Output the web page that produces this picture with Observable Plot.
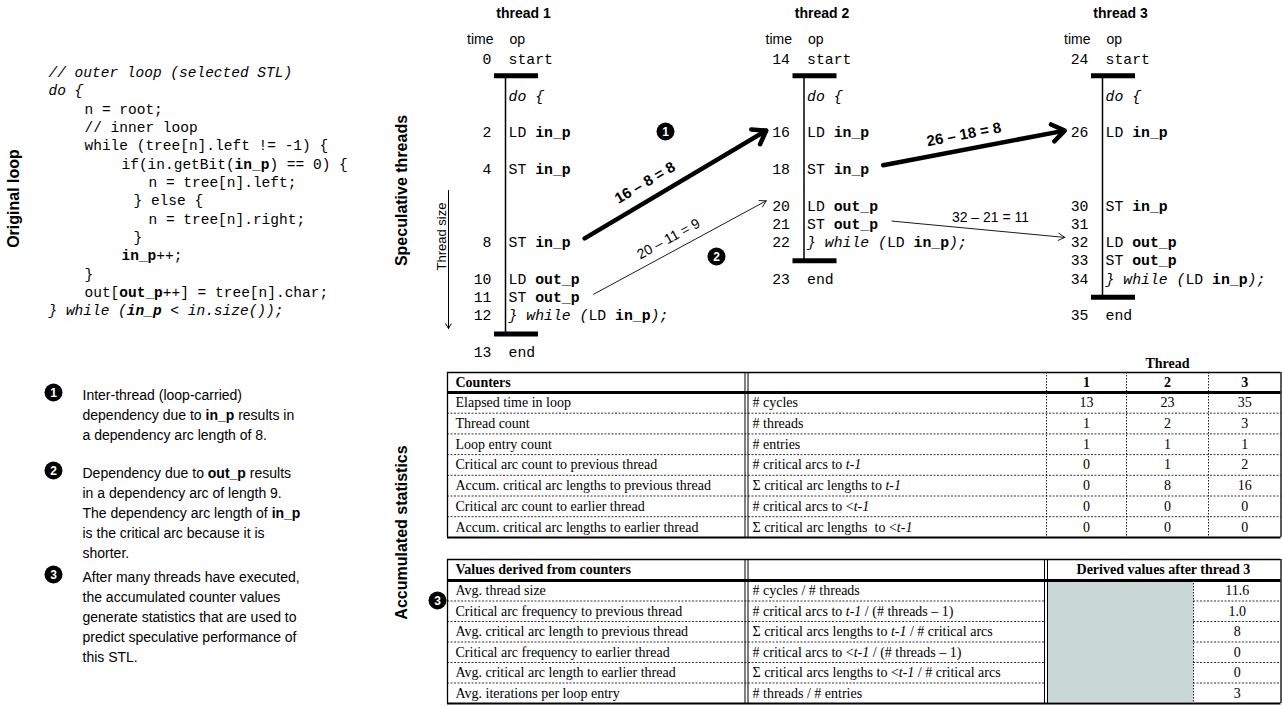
<!DOCTYPE html>
<html><head><meta charset="utf-8">
<script src="https://cdn.jsdelivr.net/npm/d3@7"></script>
<script src="https://cdn.jsdelivr.net/npm/@observablehq/plot@0.6"></script>
<style>html,body{margin:0;padding:0;background:#fff;overflow:hidden}</style>
</head><body><div id="chart"></div>
<script>
// ---------------- data ----------------
// markup: *...* italic, ^...^ bold
const codeLines = [
  "*// outer loop (selected STL)*",
  "*do {*",
  "n = root;",
  "// inner loop",
  "while (tree[n].left != -1) {",
  "if(in.getBit(^in_p^) == 0) {",
  "n = tree[n].left;",
  "} else {",
  "n = tree[n].right;",
  "}",
  "^in_p^++;",
  "}",
  "out[^out_p^++] = tree[n].char;",
  "*} while (^in_p^ < in.size());*"
];
const codeIndent = [0,0,1,1,1,2,4,3,4,3,2,1,1,0];

const threadIds = [1, 2, 3];
const threadStart = [0, 14, 24];
const threadEnd = [13, 23, 35];
const opTimes1 = [null, 2, 4, 8, 10, 11, 12];
const opText1 = ["*do {*", "LD ^in_p^", "ST ^in_p^", "ST ^in_p^", "LD ^out_p^", "ST ^out_p^", "*} while (*LD ^in_p^*);*"];
const opTimes2 = [null, 16, 18, 20, 21, 22];
const opText2 = ["*do {*", "LD ^in_p^", "ST ^in_p^", "LD ^out_p^", "ST ^out_p^", "*} while (*LD ^in_p^*);*"];
const opTimes3 = [null, 26, 30, 31, 32, 33, 34];
const opText3 = ["*do {*", "LD ^in_p^", "ST ^in_p^", "", "LD ^out_p^", "ST ^out_p^", "*} while (*LD ^in_p^*);*"];

const arcFrom = [[1, 8], [1, 11], [2, 18], [2, 21]];
const arcTo = [[2, 16], [2, 20], [3, 26], [3, 32]];
const arcLabels = ["16 – 8 = 8", "20 – 11 = 9", "26 – 18 = 8", "32 – 21 = 11"];
const arcCritical = [true, false, true, false];
const arcLabelTilted = [true, true, true, false];

const sectionTitles = ["Original loop", "Speculative threads", "Accumulated statistics"];

const notes = [
  ["Inter-thread (loop-carried)", "dependency due to ^in_p^ results in", "a dependency arc length of 8."],
  ["Dependency due to ^out_p^ results", "in a dependency arc of length 9.", "The dependency arc length of ^in_p^", "is the critical arc because it is", "shorter."],
  ["After many threads have executed,", "the accumulated counter values", "generate statistics that are used to", "predict speculative performance of", "this STL."]
];

const counterHeader = "Counters";
const counterLabels = ["Elapsed time in loop", "Thread count", "Loop entry count", "Critical arc count to previous thread", "Accum. critical arc lengths to previous thread", "Critical arc count to earlier thread", "Accum. critical arc lengths to earlier thread"];
const counterUnits = ["# cycles", "# threads", "# entries", "# critical arcs to *t-1*", "Σ critical arc lengths to *t-1*", "# critical arcs to <*t-1*", "Σ critical arc lengths  to <*t-1*"];
const threadColLabels = ["1", "2", "3"];
const counterT1 = [13, 1, 1, 0, 0, 0, 0];
const counterT2 = [23, 2, 1, 1, 8, 0, 0];
const counterT3 = [35, 3, 1, 2, 16, 0, 0];

const derivedHeader = "Values derived from counters";
const derivedValHeader = "Derived values after thread 3";
const derivedLabels = ["Avg. thread size", "Critical arc frequency to previous thread", "Avg. critical arc length to previous thread", "Critical arc frequency to earlier thread", "Avg. critical arc length to earlier thread", "Avg. iterations per loop entry"];
const derivedFormulas = ["# cycles / # threads", "# critical arcs to *t-1* / (# threads – 1)", "Σ critical arcs lengths to *t-1* / # critical arcs", "# critical arcs to <*t-1* / (# threads – 1)", "Σ critical arcs lengths to <*t-1* / # critical arcs", "# threads / # entries"];
const derivedValues = ["11.6", "1.0", "8", "0", "0", "3"];

// ---------------- layout ----------------
const W = 1282, H = 707;
const MONO = "Liberation Mono", SANS = "Liberation Sans", SERIF = "Liberation Serif";
const ctx = document.createElement("canvas").getContext("2d");
function measure(t, fam, size, b, i) { ctx.font = `${i ? "italic " : ""}${b ? "bold " : ""}${size}px "${fam}"`; return ctx.measureText(t).width; }
function parse(str) {
  const out = []; let b = false, i = false, buf = "";
  for (const ch of str) {
    if (ch === "*" || ch === "^") { if (buf) out.push({text: buf, b, i}); buf = ""; if (ch === "*") i = !i; else b = !b; }
    else buf += ch;
  }
  if (buf) out.push({text: buf, b, i});
  return out;
}
const segs = [];
function rich(str, x, y, {family, size, anchor = "start", bold = false, fill = "black"}) {
  const parts = parse(str).map(p => ({...p, b: p.b || bold}));
  const widths = parts.map(p => measure(p.text, family, size, p.b, p.i));
  const total = d3.sum(widths);
  let cx = anchor === "start" ? x : anchor === "middle" ? x - total / 2 : x - total;
  parts.forEach((p, k) => {
    const lead = p.text.match(/^\s*/)[0];
    const t = p.text.slice(lead.length);
    const lx = cx + (lead ? measure(lead, family, size, p.b, p.i) : 0);
    if (t) segs.push({x: lx, y, text: t, family, size, weight: p.b ? "bold" : "normal", style: p.i ? "italic" : "normal", fill});
    cx += widths[k];
  });
  return total;
}
const rot = [];

// code block
const codeX = 48, indentPx = [0, 36, 73, 85, 100], codeY = d3.scaleLinear([0, 13], [72, 310]);
codeLines.forEach((l, i) => rich(l, codeX + indentPx[codeIndent[i]], codeY(i), {family: MONO, size: 14.5}));

// section titles
rot.push({x: 13, y: 198, text: sectionTitles[0], kind: "title", r: -90});
rot.push({x: 401, y: 190, text: sectionTitles[1], kind: "title", r: -90});
rot.push({x: 401, y: 532, text: sectionTitles[2], kind: "title", r: -90});

// threads
const vx = d3.scalePoint().domain(threadIds).range([505, 1102]);
const yLocal = d3.scaleLinear().domain([0, 12]).range([95.5, 315.1]);
const opSize = 14.8, charW = opSize * 0.6;
const opsByThread = [[opTimes1, opText1], [opTimes2, opText2], [opTimes3, opText3]];
const bars = [], vlines = [];
threadIds.forEach((id, k) => {
  const x = vx(id), s = threadStart[k], e = threadEnd[k];
  rich(`thread ${id}`, x + 18, yLocal(-4.5), {family: SANS, size: 14, bold: true, anchor: "middle"});
  rich("time", x - 12, yLocal(-3.1), {family: SANS, size: 14, anchor: "end"});
  rich("op", x + 4, yLocal(-3.1), {family: SANS, size: 14});
  rich(String(s), x - 14, yLocal(-2), {family: MONO, size: opSize, anchor: "end"});
  rich("start", x + 3, yLocal(-2), {family: MONO, size: opSize});
  const [times, texts] = opsByThread[k];
  times.forEach((t, j) => {
    const yy = yLocal(t == null ? 0 : t - s);
    if (t != null) rich(String(t), x - 14, yy, {family: MONO, size: opSize, anchor: "end"});
    if (texts[j]) rich(texts[j], x + 3, yy, {family: MONO, size: opSize});
  });
  const yEnd = yLocal(e - s);
  rich(String(e), x - 14, yLocal(e - s + 1), {family: MONO, size: opSize, anchor: "end"});
  rich("end", x + 3, yLocal(e - s + 1), {family: MONO, size: opSize});
  bars.push({x1: x - 11, x2: x + 33, y: yLocal(-1.1)}, {x1: x - 11, x2: x + 33, y: yEnd});
  vlines.push({x, y1: yLocal(-1.1), y2: yEnd});
});

// dependency arcs
function opEnd(th, t) {
  const k = th - 1, [times, texts] = opsByThread[k];
  const chars = parse(texts[times.indexOf(t)]).map(p => p.text).join("").length;
  return {x: vx(th) + 3 + chars * charW, y: yLocal(t - threadStart[k])};
}
const labelFrac = [0.38, 0.47, 0.46, 0.57], labelOff = [17, 13, 15, 13];
const arcs = arcFrom.map((f, i) => {
  const a = opEnd(f[0], f[1]);
  const [th, t] = arcTo[i];
  const x2 = vx(th) - 14 - String(t).length * charW - 6;
  const y2 = yLocal(t - threadStart[th - 1]) - (arcCritical[i] ? 2 : 5);
  const x1 = a.x + 14, y1 = a.y - (arcCritical[i] ? 4 : 3);
  const dx = x2 - x1, dy = y2 - y1, len = Math.hypot(dx, dy);
  const ang = Math.atan2(dy, dx) * 180 / Math.PI;
  rot.push({
    x: x1 + dx * labelFrac[i] + (arcLabelTilted[i] ? dy / len * labelOff[i] : 0),
    y: y1 + dy * labelFrac[i] - (arcLabelTilted[i] ? dx / len * labelOff[i] : labelOff[i]),
    text: arcLabels[i], kind: arcCritical[i] ? "crit" : "norm", r: arcLabelTilted[i] ? ang : 0
  });
  return {x1, y1, x2, y2, critical: arcCritical[i]};
});

// thread size arrow
const sizeArrow = [{x1: 448, y1: 190, x2: 448, y2: 328}];
rot.push({x: 441, y: 236, text: "Thread size", kind: "small", r: -90});

// numbered circles
const circles = [{x: 665, y: 131, n: "1"}, {x: 716, y: 256, n: "2"}, {x: 437, y: 600, n: "3"}];
const noteStart = [395, 473, 577], noteLH = 20;
notes.forEach((lines, i) => {
  lines.forEach((l, j) => rich(l, 82, noteStart[i] + j * noteLH, {family: SANS, size: 14}));
  circles.push({x: 53, y: noteStart[i] - 3, n: String(i + 1)});
});
circles.forEach(c => rich(c.n, c.x, c.y + 0.5, {family: SANS, size: 12, bold: true, anchor: "middle", fill: "white"}));

// ---------------- tables ----------------
const hSolid = [], hDash = [], vSolid = [], vDash = [], rects = [];
const TS = 14;
// table 1
const tx = [447, 746, 1046, 1126, 1208, 1280.5];
const t1Top = 372, t1Head = 392, rowH = 20.7, t1Bot = t1Head + rowH * counterLabels.length;
const colC = [0, 1, 2].map(k => (tx[k + 2] + tx[k + 3]) / 2);
rich("Thread", colC[1], t1Top - 9, {family: SERIF, size: TS, bold: true, anchor: "middle"});
rich(counterHeader, tx[0] + 8, (t1Top + t1Head) / 2, {family: SERIF, size: TS, bold: true});
threadColLabels.forEach((l, k) => rich(l, colC[k], (t1Top + t1Head) / 2, {family: SERIF, size: TS, bold: true, anchor: "middle"}));
const cvals = [counterT1, counterT2, counterT3];
counterLabels.forEach((l, i) => {
  const y = t1Head + rowH * (i + 0.5);
  rich(l, tx[0] + 8, y, {family: SERIF, size: TS});
  rich(counterUnits[i], tx[1] + 6, y, {family: SERIF, size: TS});
  cvals.forEach((v, k) => rich(String(v[i]), colC[k], y, {family: SERIF, size: TS, anchor: "middle"}));
  if (i > 0) hDash.push({y: t1Head + rowH * i, x1: tx[0], x2: tx[5]});
});
hSolid.push({y: t1Top, x1: tx[0], x2: tx[5], w: 1.3}, {y: t1Head, x1: tx[0], x2: tx[5], w: 3}, {y: t1Bot, x1: tx[0], x2: tx[5], w: 2});
vSolid.push({x: tx[0], y1: t1Top, y2: t1Bot, w: 1.3}, {x: tx[5], y1: t1Top, y2: t1Bot, w: 1.3},
  {x: tx[1] - 1.5, y1: t1Top, y2: t1Bot, w: 1}, {x: tx[1] + 1.5, y1: t1Top, y2: t1Bot, w: 1});
[2, 3, 4].forEach(k => vDash.push({x: tx[k], y1: t1Top, y2: t1Bot}));

// table 2
const ux = [447, 746, 1045.5, 1193, 1280.5];
const t2Top = 559, t2Head = 580, rowH2 = 20.5, t2Bot = t2Head + rowH2 * derivedLabels.length;
rich(derivedHeader, ux[0] + 8, (t2Top + t2Head) / 2, {family: SERIF, size: TS, bold: true});
rich(derivedValHeader, (ux[2] + ux[4]) / 2, (t2Top + t2Head) / 2, {family: SERIF, size: TS, bold: true, anchor: "middle"});
rects.push({x1: ux[2] + 1.5, x2: ux[3], y1: t2Head + 1.5, y2: t2Bot - 1});
derivedLabels.forEach((l, i) => {
  const y = t2Head + rowH2 * (i + 0.5);
  rich(l, ux[0] + 8, y, {family: SERIF, size: TS});
  rich(derivedFormulas[i], ux[1] + 6, y, {family: SERIF, size: TS});
  rich(derivedValues[i], (ux[3] + ux[4]) / 2, y, {family: SERIF, size: TS, anchor: "middle"});
  if (i > 0) {
    hDash.push({y: t2Head + rowH2 * i, x1: ux[0], x2: ux[2]});
    hDash.push({y: t2Head + rowH2 * i, x1: ux[3], x2: ux[4]});
  }
});
hSolid.push({y: t2Top, x1: ux[0], x2: ux[4], w: 1.3}, {y: t2Head, x1: ux[0], x2: ux[4], w: 3}, {y: t2Bot, x1: ux[0], x2: ux[4], w: 2});
vSolid.push({x: ux[0], y1: t2Top, y2: t2Bot, w: 1.3}, {x: ux[4], y1: t2Top, y2: t2Bot, w: 1.3},
  {x: ux[1] - 1.5, y1: t2Top, y2: t2Bot, w: 1}, {x: ux[1] + 1.5, y1: t2Top, y2: t2Bot, w: 1},
  {x: ux[2] - 1.5, y1: t2Top, y2: t2Bot, w: 1}, {x: ux[2] + 1.5, y1: t2Top, y2: t2Bot, w: 1});
vDash.push({x: ux[3], y1: t2Head, y2: t2Bot});

// ---------------- marks ----------------
const textMarks = d3.groups(segs, d => [d.family, d.size, d.weight, d.style].join("|")).map(([key, g]) => {
  const [family, size, weight, style] = key.split("|");
  return Plot.text(g, {x: "x", y: "y", text: "text", fill: "fill", fontFamily: family, fontSize: +size,
    fontWeight: weight, fontStyle: style, textAnchor: "start", lineAnchor: "middle"});
});
const rotStyles = {title: {size: 16, weight: "bold"}, crit: {size: 15, weight: "bold"}, norm: {size: 14, weight: "normal"}, small: {size: 13, weight: "normal"}};
const rotMarks = Object.entries(rotStyles).map(([kind, s]) =>
  Plot.text(rot.filter(d => d.kind === kind), {x: "x", y: "y", text: "text", rotate: "r", fontFamily: SANS,
    fontSize: s.size, fontWeight: s.weight, textAnchor: "middle", lineAnchor: "middle", fill: "black"}));

const chart = Plot.plot({
  width: W, height: H, margin: 0,
  x: {type: "identity", axis: null}, y: {type: "identity", axis: null}, color: {type: "identity"},
  style: {background: "#fff"},
  marks: [
    Plot.rect(rects, {x1: "x1", x2: "x2", y1: "y1", y2: "y2", fill: "#c9d8d7"}),
    Plot.ruleY(hDash, {y: "y", x1: "x1", x2: "x2", stroke: "black", strokeWidth: 0.8, strokeDasharray: "2,1.5"}),
    Plot.ruleX(vDash, {x: "x", y1: "y1", y2: "y2", stroke: "black", strokeWidth: 0.9, strokeDasharray: "1.5,1.5"}),
    Plot.ruleY(hSolid, {y: "y", x1: "x1", x2: "x2", stroke: "black", strokeWidth: "w"}),
    Plot.ruleX(vSolid, {x: "x", y1: "y1", y2: "y2", stroke: "black", strokeWidth: "w"}),
    Plot.ruleX(vlines, {x: "x", y1: "y1", y2: "y2", stroke: "black", strokeWidth: 1.5}),
    Plot.ruleY(bars, {y: "y", x1: "x1", x2: "x2", stroke: "black", strokeWidth: 5}),
    Plot.arrow(arcs.filter(d => d.critical), {x1: "x1", y1: "y1", x2: "x2", y2: "y2", stroke: "black", strokeWidth: 4.5, headLength: 5, headAngle: 70}),
    Plot.arrow(arcs.filter(d => !d.critical), {x1: "x1", y1: "y1", x2: "x2", y2: "y2", stroke: "black", strokeWidth: 0.9, headLength: 12}),
    Plot.arrow(sizeArrow, {x1: "x1", y1: "y1", x2: "x2", y2: "y2", stroke: "black", strokeWidth: 1, headLength: 8}),
    Plot.dot(circles, {x: "x", y: "y", r: 9, fill: "black"}),
    ...rotMarks,
    ...textMarks
  ]
});
document.getElementById("chart").appendChild(chart);
</script>
</body></html>
